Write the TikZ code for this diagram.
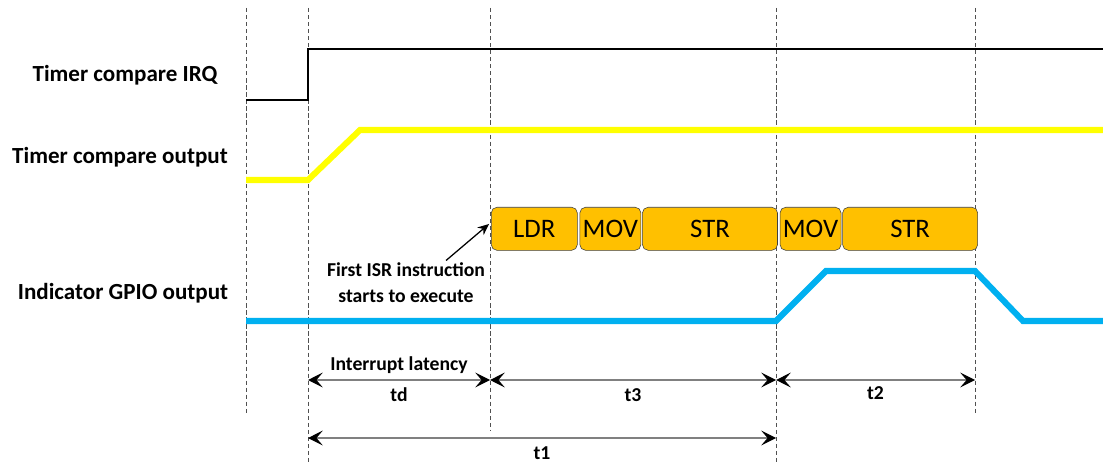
\documentclass[tikz,border=0pt]{standalone}
\usepackage{fontspec}
\setmainfont{Carlito}
\usepackage{tikz}
\usetikzlibrary{arrows.meta,positioning,calc}
\definecolor{TLYellow}{HTML}{FFFF00}
\definecolor{TLBlue}  {HTML}{00B0F0}
\definecolor{TLAmber} {HTML}{FFC000}
\definecolor{TLEdge}  {HTML}{404040}
\definecolor{TLGuide} {HTML}{505050}
\definecolor{TLGrey}  {HTML}{808080}

\begin{document}
\begin{tikzpicture}[x=0.025cm,y=-0.025cm,
    guide/.style={densely dashed,line width=0.4pt,TLGuide},
    sigthin/.style={line width=1.4pt,black},
    sigwide/.style={line width=4.3pt},
    instr/.style={draw=TLEdge,fill=TLAmber,rounded corners=4pt,inner sep=0pt,
      minimum height=1.075cm,font=\fontsize{19}{22}\selectfont},
    siglabel/.style={font=\fontsize{16.4}{19}\selectfont\bfseries},
    dimline/.style={TLGrey,line width=0.9pt,
      {Stealth[black,length=10.5pt,width=10.5pt,inset=4.5pt]}-{Stealth[black,length=10.5pt,width=10.5pt,inset=4.5pt]}},
    dimlabel/.style={font=\fontsize{14}{18.5}\selectfont\bfseries,text=black},
    pointer/.style={-{Stealth[length=8pt,width=7pt]},line width=0.9pt,black}]
    \useasboundingbox (0,0) rectangle (1103,465);
    % time guides
    \foreach \n/\x/\yb in {ga/246/415,gb/308/465,gc/490/430,gd/776/465,ge/975/415}{
      \coordinate (\n-top) at (\x,8);
      \coordinate (\n-bot) at (\x,\yb);
      \draw[guide] (\n-top) -- (\n-bot);
    }
    % signal names
    \node[siglabel] (irqname)  at (125,75)  {Timer compare IRQ};
    \node[siglabel] (cmpname)  at (120,157) {Timer compare output};
    \node[siglabel] (gpioname) at (123,293) {Indicator GPIO output};
    % waveforms
    \draw[sigthin] (246,100) -- (308,100) -- (308,49) -- (1103,49);
    \draw[sigwide,TLYellow] (246,180) -- (308,180) -- (360,130) -- (1103,130);
    \draw[sigwide,TLBlue] (246,321) -- (776,321) -- (826,271) -- (975,271)
      -- (1023,321) -- (1103,321);
    % ISR instructions
    \node[instr,minimum width=2.15cm,anchor=north west] (ldr) at (491,207) {LDR};
    \node[instr,minimum width=1.525cm,right=0.05cm of ldr] (mova) {MOV};
    \node[instr,minimum width=3.375cm,right=0.025cm of mova] (stra) {STR};
    \node[instr,minimum width=1.525cm,right=0.05cm of stra] (movb) {MOV};
    \node[instr,minimum width=3.375cm,right=0.025cm of movb] (strb) {STR};
    \node[dimlabel,align=center,inner sep=1pt] (note) at (406,283)
      {First ISR instruction\\starts to execute};
    \draw[pointer] ([xshift=1.0cm,yshift=0.02cm]note.north) -- ([xshift=-0.05cm,yshift=0.12cm]ldr.west);
    % timing intervals
    \draw[dimline] (gb-top |- 0,380) -- node[dimlabel,above=1pt] (latency) {Interrupt latency}
      node[dimlabel,below=2pt] (tdlbl) {td} (gc-top |- 0,380);
    \draw[dimline] (gc-top |- 0,380) -- node[dimlabel,below=2pt] (t3lbl) {t3} (gd-top |- 0,380);
    \draw[dimline] (gd-top |- 0,380) -- node[dimlabel,below=1pt] (t2lbl) {t2} (ge-top |- 0,380);
    \draw[dimline] (gb-top |- 0,438) -- node[dimlabel,below=2.5pt] (t1lbl) {t1} (gd-top |- 0,438);
\end{tikzpicture}
\end{document}
